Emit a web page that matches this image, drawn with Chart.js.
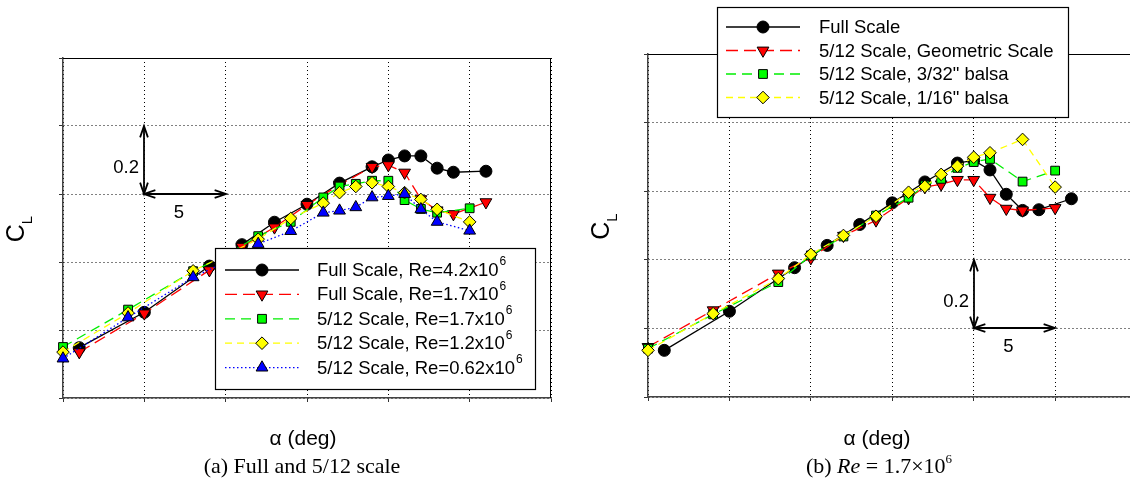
<!DOCTYPE html>
<html>
<head>
<meta charset="utf-8">
<script src="https://cdn.jsdelivr.net/npm/chart.js@4.4.1/dist/chart.umd.min.js"></script>
<style>
  html, body { margin: 0; padding: 0; background: #fff; }
  body { position: relative; width: 1130px; height: 491px; overflow: hidden; }
  canvas { position: absolute; top: 0; }
  #chartA { left: 0; }
  #chartB { left: 565px; }
  .txt { position: absolute; transform: translate(-50%, -50%); white-space: nowrap; color: #000; }
  .xtitle { font: 21px "Liberation Sans", Arial, sans-serif; }
  .caption { font: 22px "Liberation Serif", "Times New Roman", serif; }
  .caption sup { font-size: 13px; vertical-align: 10px; line-height: 0; }
</style>
</head>
<body>
<canvas id="chartA" width="565" height="491"></canvas>
<canvas id="chartB" width="665" height="491"></canvas>

<div class="txt xtitle" style="left:303px; top:438px;">α (deg)</div>
<div class="txt xtitle" style="left:877px; top:438px;">α (deg)</div>
<div class="txt caption" style="left:302px; top:466px;">(a) Full and 5/12 scale</div>
<div class="txt caption" style="left:879px; top:466px;">(b) <i>Re</i> = 1.7×10<sup>6</sup></div>

<script>
// ------------------------------------------------------
// @Data (alpha in deg, CL)
// ------------------------------------------------------

const ALPHA_FULL  = [-9, -5, -1, 1, 3, 5, 7, 9, 10, 11, 12, 13, 14, 16];
const ALPHA_SUB   = [-10, -6, -2, 0, 2, 4, 6, 7, 8, 9, 10, 11, 12, 13, 15];
const ALPHA_BALSA = [-10, -6, -2, 0, 2, 4, 6, 7, 8, 9, 10, 11, 13, 15];

// (a) Full and 5/12 scale
const CL_FULL_RE42 = [0.148, 0.252, 0.388, 0.451, 0.517, 0.570, 0.632, 0.680, 0.700, 0.712, 0.712, 0.676, 0.664, 0.667];
const CL_FULL_RE17 = [0.135, 0.249, 0.376, 0.445, 0.502, 0.568, 0.627, 0.680, 0.685, 0.663, 0.585, 0.552, 0.541, 0.576];
const CL_SUB_RE17  = [0.150, 0.260, 0.373, 0.420, 0.476, 0.518, 0.590, 0.622, 0.630, 0.639, 0.639, 0.582, 0.556, 0.545, 0.558];
const CL_SUB_RE12  = [0.135, 0.250, 0.374, 0.420, 0.467, 0.528, 0.573, 0.604, 0.622, 0.633, 0.622, 0.604, 0.584, 0.555, 0.518];
const CL_SUB_RE062 = [0.116, 0.237, 0.355, 0.400, 0.453, 0.491, 0.545, 0.551, 0.561, 0.590, 0.594, 0.600, 0.555, 0.518, 0.492];

// (b) Re = 1.7x10^6
const CL_B_FULL  = [0.136, 0.250, 0.377, 0.442, 0.503, 0.566, 0.627, 0.682, 0.690, 0.662, 0.591, 0.544, 0.546, 0.578];
const CL_B_GEOM  = [0.146, 0.253, 0.360, 0.405, 0.470, 0.515, 0.580, 0.612, 0.620, 0.633, 0.633, 0.581, 0.549, 0.544, 0.551];
const CL_B_B332  = [0.141, 0.241, 0.335, 0.413, 0.468, 0.529, 0.581, 0.617, 0.636, 0.668, 0.685, 0.694, 0.628, 0.660];
const CL_B_B116  = [0.136, 0.243, 0.345, 0.416, 0.471, 0.527, 0.597, 0.614, 0.649, 0.673, 0.699, 0.712, 0.751, 0.612];

const X_STEP = 5;
const Y_STEP = 0.2;

const LEGEND_A = [
  ['Full Scale, Re=4.2x10', '6'],
  ['Full Scale, Re=1.7x10', '6'],
  ['5/12 Scale, Re=1.7x10', '6'],
  ['5/12 Scale, Re=1.2x10', '6'],
  ['5/12 Scale, Re=0.62x10', '6'],
];
const LEGEND_B = [
  ['Full Scale', ''],
  ['5/12 Scale, Geometric Scale', ''],
  ['5/12 Scale, 3/32" balsa', ''],
  ['5/12 Scale, 1/16" balsa', ''],
];

// ------------------------------------------------------
// @Styles
// ------------------------------------------------------

const STYLE = {
  black  : { line: '#000000', fill: '#000000', point: 'circle',   rot: 0,   r: 6,   dash: [] },
  red    : { line: '#ff0000', fill: '#ff0000', point: 'triangle', rot: 180, r: 6.8, dash: [12, 6] },
  green  : { line: '#00ee00', fill: '#00ff00', point: 'rect',     rot: 0,   r: 6.2, dash: [10, 6] },
  yellow : { line: '#ffff00', fill: '#ffff00', point: 'rectRot',  rot: 0,   r: 6.3, dash: [7, 5] },
  blue   : { line: '#0000ff', fill: '#0000ff', point: 'triangle', rot: 0,   r: 6.8, dash: [1.5, 2.5] },
};

const SANS = '"Liberation Sans", Arial, sans-serif';

function series(label, xs, ys, st, order) {
  return {
    label           : label,
    data            : xs.map((x, i) => ({ x: x, y: ys[i] })),
    borderColor     : st.line,
    backgroundColor : st.fill,
    borderWidth     : 1.3,
    borderDash      : st.dash,
    pointStyle      : st.point,
    pointRotation   : st.rot,
    pointRadius     : st.r,
    pointHoverRadius: st.r,
    pointBackgroundColor: st.fill,
    pointBorderColor: '#000',
    pointBorderWidth: 1,
    tension         : 0,
    fill            : false,
    clip            : false,
    order           : order,
  };
}

// ------------------------------------------------------
// @Overlay: frame, arrows, y title, legend
// ------------------------------------------------------

function arrowHeads(ctx, x1, y1, x2, y2) {
  const ang = Math.atan2(y2 - y1, x2 - x1);
  const L = 12, A = 0.33;
  [[x1, y1, ang + Math.PI], [x2, y2, ang]].forEach(([x, y, a]) => {
    ctx.beginPath();
    ctx.moveTo(x - L * Math.cos(a - A), y - L * Math.sin(a - A));
    ctx.lineTo(x, y);
    ctx.lineTo(x - L * Math.cos(a + A), y - L * Math.sin(a + A));
    ctx.stroke();
  });
  ctx.beginPath();
  ctx.moveTo(x1, y1);
  ctx.lineTo(x2, y2);
  ctx.stroke();
}

const overlay = {
  id: 'overlay',
  afterDraw(chart, args, o) {
    const { ctx, chartArea: ca, scales: { x, y } } = chart;
    ctx.save();

    // top / right frame
    ctx.strokeStyle = '#000';
    ctx.lineWidth = 1;
    ctx.setLineDash([]);
    ctx.beginPath();
    ctx.moveTo(ca.left, Math.round(ca.top) + 0.5);
    ctx.lineTo(o.frameRight ? ca.right : chart.width, Math.round(ca.top) + 0.5);
    if (o.frameRight) {
      ctx.moveTo(Math.round(ca.right) - 0.5, ca.top);
      ctx.lineTo(Math.round(ca.right) - 0.5, ca.bottom);
    }
    ctx.stroke();

    // scale arrows
    const ax = Math.round(x.getPixelForValue(o.arrow.x));
    const ay = Math.round(y.getPixelForValue(o.arrow.y));
    const ax2 = Math.round(x.getPixelForValue(o.arrow.x + X_STEP));
    const ay2 = Math.round(y.getPixelForValue(o.arrow.y + Y_STEP));
    ctx.lineWidth = 1.8;
    ctx.strokeStyle = '#000';
    arrowHeads(ctx, ax, ay2, ax, ay);
    arrowHeads(ctx, ax, ay, ax2, ay);
    ctx.fillStyle = '#000';
    ctx.font = '18.5px ' + SANS;
    ctx.textAlign = 'right';
    ctx.textBaseline = 'middle';
    ctx.fillText(String(Y_STEP), ax - 5, (ay + ay2) / 2 + 8);
    ctx.textAlign = 'center';
    ctx.fillText(String(X_STEP), (ax + ax2) / 2 - 6, ay + 19);

    // y title C_L
    ctx.save();
    ctx.translate(ca.left - 46, (ca.top + ca.bottom) / 2 + 1);
    ctx.rotate(-Math.PI / 2);
    ctx.font = '25px ' + SANS;
    const wC = ctx.measureText('C').width;
    ctx.font = '15px ' + SANS;
    const wL = ctx.measureText('L').width;
    ctx.textAlign = 'left';
    ctx.textBaseline = 'middle';
    ctx.font = '25px ' + SANS;
    ctx.fillText('C', -(wC + wL) / 2, 0);
    ctx.font = '15px ' + SANS;
    ctx.fillText('L', -(wC + wL) / 2 + wC, 11);
    ctx.restore();

    // legend
    const lg = o.legend;
    ctx.fillStyle = '#fff';
    ctx.fillRect(lg.box[0], lg.box[1], lg.box[2] - lg.box[0], lg.box[3] - lg.box[1]);
    ctx.strokeStyle = '#000';
    ctx.lineWidth = 1.2;
    ctx.strokeRect(lg.box[0] + 0.5, lg.box[1] + 0.5, lg.box[2] - lg.box[0], lg.box[3] - lg.box[1]);
    lg.items.forEach((it, i) => {
      const ds = chart.data.datasets[i];
      const yy = lg.rowY + i * lg.rowStep;
      ctx.save();
      ctx.strokeStyle = ds.borderColor;
      ctx.lineWidth = ds.borderWidth;
      ctx.setLineDash(ds.borderDash);
      ctx.beginPath();
      ctx.moveTo(lg.lineX[0], yy);
      ctx.lineTo(lg.lineX[1], yy);
      ctx.stroke();
      ctx.restore();
      ctx.fillStyle = ds.pointBackgroundColor;
      ctx.strokeStyle = ds.pointBorderColor;
      ctx.lineWidth = ds.pointBorderWidth;
      Chart.helpers.drawPoint(ctx, {
        pointStyle: ds.pointStyle, rotation: ds.pointRotation,
        radius: ds.pointRadius, borderWidth: ds.pointBorderWidth,
      }, (lg.lineX[0] + lg.lineX[1]) / 2, yy);
      ctx.fillStyle = '#000';
      ctx.textAlign = 'left';
      ctx.textBaseline = 'middle';
      ctx.font = '18.5px ' + SANS;
      ctx.fillText(it[0], lg.textX, yy + 1);
      if (it[1]) {
        const w = ctx.measureText(it[0]).width;
        ctx.font = '12px ' + SANS;
        ctx.fillText(it[1], lg.textX + w + 1, yy - 8);
      }
    });

    ctx.restore();
  },
};

function makeChart(id, datasets, xMax, pad, ov) {
  const axis = (min, max, step) => ({
    type: 'linear', min: min, max: max,
    ticks: { display: false, stepSize: step },
    grid: { color: '#000', lineWidth: 1, drawTicks: true, tickLength: 4, tickColor: '#333', tickWidth: 1 },
    border: { display: true, color: '#444', width: 1.5, dash: [1, 3] },
  });
  const xAxis = axis(-10, xMax, X_STEP);
  xAxis.afterFit = (s) => { s.height = 0; };
  const yAxis = axis(0, 1, Y_STEP);
  yAxis.afterFit = (s) => { s.width = 0; };

  return new Chart(document.getElementById(id).getContext('2d'), {
    type: 'line',
    data: { datasets: datasets },
    options: {
      responsive: false,
      animation: false,
      devicePixelRatio: 1,
      events: [],
      layout: { padding: pad },
      scales: { x: xAxis, y: yAxis },
      plugins: {
        legend: { display: false },
        tooltip: { enabled: false },
        overlay: ov,
      },
    },
    plugins: [overlay],
  });
}

// ------------------------------------------------------
// @(a) Full and 5/12 scale
// ------------------------------------------------------

makeChart('chartA', [
  series('Full Scale, Re=4.2x10^6', ALPHA_FULL, CL_FULL_RE42, STYLE.black, 5),
  series('Full Scale, Re=1.7x10^6', ALPHA_FULL, CL_FULL_RE17, STYLE.red, 4),
  series('5/12 Scale, Re=1.7x10^6', ALPHA_SUB, CL_SUB_RE17, STYLE.green, 3),
  series('5/12 Scale, Re=1.2x10^6', ALPHA_SUB, CL_SUB_RE12, STYLE.yellow, 2),
  series('5/12 Scale, Re=0.62x10^6', ALPHA_SUB, CL_SUB_RE062, STYLE.blue, 1),
], 20, { left: 63, top: 58, right: 14, bottom: 93 }, {
  frameRight: true,
  arrow: { x: -5, y: 0.6 },
  legend: { box: [215, 248, 535, 389], lineX: [225, 299], textX: 317, rowY: 270, rowStep: 24.4, items: LEGEND_A },
});

// ------------------------------------------------------
// @(b) Re = 1.7x10^6
// ------------------------------------------------------

makeChart('chartB', [
  series('Full Scale', ALPHA_FULL, CL_B_FULL, STYLE.black, 4),
  series('5/12 Scale, Geometric Scale', ALPHA_SUB, CL_B_GEOM, STYLE.red, 3),
  series('5/12 Scale, 3/32" balsa', ALPHA_BALSA, CL_B_B332, STYLE.green, 2),
  series('5/12 Scale, 1/16" balsa', ALPHA_BALSA, CL_B_B116, STYLE.yellow, 1),
], 25, { left: 83, top: 54, right: 12, bottom: 94 }, {
  frameRight: false,
  arrow: { x: 10, y: 0.2 },
  legend: { box: [152, 7, 503, 117], lineX: [161, 235], textX: 254, rowY: 27, rowStep: 23.5, items: LEGEND_B },
});
</script>
</body>
</html>
